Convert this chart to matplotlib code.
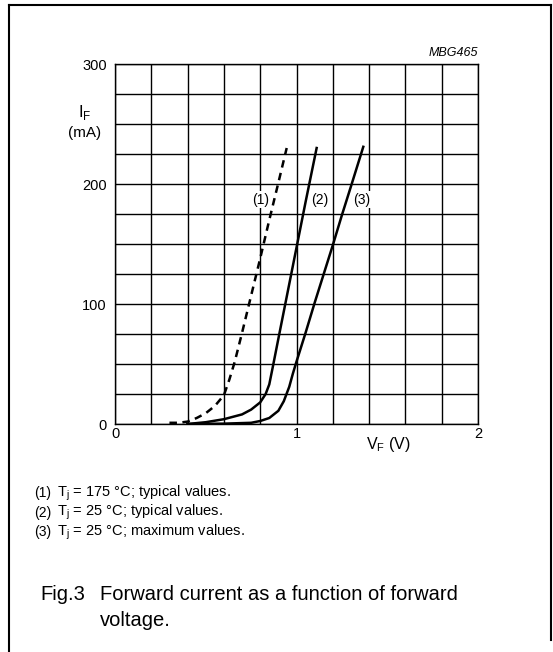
# Forward current vs forward voltage (datasheet Fig.3)
import numpy as np
import matplotlib
matplotlib.use("Agg")
import matplotlib.pyplot as plt
from matplotlib.lines import Line2D

plt.rcParams['font.family'] = ['Liberation Sans', 'DejaVu Sans']
plt.rcParams['mathtext.fontset'] = 'custom'
plt.rcParams['mathtext.rm'] = 'Liberation Sans'

# Data (V_F in V, I_F in mA)
v1 = [0.30, 0.35, 0.40, 0.45, 0.50, 0.55, 0.60, 0.63, 0.66, 0.70, 0.75, 0.80, 0.85, 0.90, 0.946]
i1 = [1, 1, 2, 5, 9, 15, 24, 37, 52, 76, 107, 138, 170, 201, 230]

v2 = [0.40, 0.50, 0.60, 0.70, 0.75, 0.80, 0.83, 0.85, 0.87, 0.90, 0.95, 1.00, 1.05, 1.111]
i2 = [0, 1.5, 4, 8, 12, 18, 25, 33, 48, 71, 109, 147, 185, 230]

v3 = [0.40, 0.60, 0.75, 0.80, 0.85, 0.90, 0.93, 0.96, 0.98, 1.00, 1.05, 1.10, 1.15, 1.20, 1.25, 1.30, 1.368]
i3 = [0, 0.3, 1, 2.5, 5, 11, 19, 31, 42, 52, 76, 101, 125, 149, 174, 198, 231]

curve_labels = ["(1)", "(2)", "(3)"]
label_pos = [(0.80, 187), (1.13, 187), (1.36, 187)]

notes = ["T$_\\mathregular{j}$ = 175 \u00b0C; typical values.",
         "T$_\\mathregular{j}$ = 25 \u00b0C; typical values.",
         "T$_\\mathregular{j}$ = 25 \u00b0C; maximum values."]

W, H = 553, 652
fig = plt.figure(figsize=(W / 100, H / 100), dpi=100)
ax = fig.add_axes([115 / W, 1 - 424 / H, 363 / W, 360 / H])

ax.plot(v1, i1, color='black', lw=1.8, linestyle=(0, (3, 2.2)))
ax.plot(v2, i2, color='black', lw=1.8)
ax.plot(v3, i3, color='black', lw=1.8)

for lab, (x, y) in zip(curve_labels, label_pos):
    ax.text(x, y, lab, ha='center', va='center', fontsize=10,
            bbox=dict(facecolor='white', edgecolor='none', pad=1.0))

ax.set_xlim(0, 2)
ax.set_ylim(0, 300)
ax.set_xticks([0, 1, 2])
ax.set_yticks([0, 100, 200, 300])
ax.set_xticks(np.arange(0, 2.01, 0.2), minor=True)
ax.set_yticks(np.arange(0, 301, 25), minor=True)
ax.grid(which='both', color='black', lw=1.0)
ax.set_axisbelow(True)
ax.tick_params(which='both', length=0, labelsize=10.5)
ax.tick_params(axis='x', pad=2)
ax.tick_params(axis='y', pad=6)
for s in ax.spines.values():
    s.set_linewidth(1.0)

# axis labels
fig.text(85 / W, 1 - 112 / H, "I$_\\mathregular{F}$", ha='center', va='center', fontsize=12)
fig.text(85 / W, 1 - 133 / H, "(mA)", ha='center', va='center', fontsize=11)
fig.text(388 / W, 1 - 444 / H, "V$_\\mathregular{F}$ (V)", ha='center', va='center', fontsize=11.5)
fig.text(478 / W, 1 - 53 / H, "MBG465", ha='right', va='center', fontsize=9,
         style='italic')

# notes below the chart
for k, (lab, txt) in enumerate(zip(curve_labels, notes)):
    y = 493 + 19.5 * k
    fig.text(34 / W, 1 - y / H, lab, ha='left', va='center', fontsize=10)
    fig.text(57 / W, 1 - y / H, txt, ha='left', va='center', fontsize=10.5)

fig.text(40 / W, 1 - 594 / H, "Fig.3", ha='left', va='center', fontsize=14.5)
fig.text(100 / W, 1 - 594 / H, "Forward current as a function of forward",
         ha='left', va='center', fontsize=14.5)
fig.text(100 / W, 1 - 621 / H, "voltage.", ha='left', va='center', fontsize=14.5)

# page frame
fig.add_artist(Line2D([9 / W, 9 / W], [0, 1 - 5 / H], color='black', lw=1.5))
fig.add_artist(Line2D([9 / W, 551 / W], [1 - 5 / H, 1 - 5 / H], color='black', lw=1.5))
fig.add_artist(Line2D([551 / W, 551 / W], [1 - 5 / H, 1 - 640 / H], color='black', lw=1.5))

fig.savefig("out.png", dpi=100)
